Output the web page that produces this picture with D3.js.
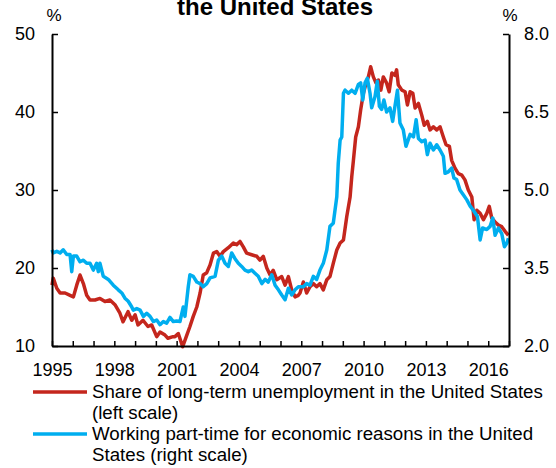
<!DOCTYPE html>
<html>
<head>
<meta charset="utf-8">
<script src="https://cdn.jsdelivr.net/npm/d3@7"></script>
<style>
  html, body { margin: 0; padding: 0; background: #fff; }
  svg { display: block; font-family: "Liberation Sans", Arial, sans-serif; }
</style>
</head>
<body>
<svg id="chart" width="556" height="468"></svg>
<script>
// ---- Data (decimal year, value) ----
const longTermYears = [1995.00,1995.06,1995.23,1995.39,1995.63,1995.87,1996.03,1996.19,1996.35,1996.51,1996.67,1996.83,1997.07,1997.31,1997.55,1997.79,1998.03,1998.27,1998.42,1998.66,1998.84,1999.00,1999.14,1999.38,1999.62,1999.80,2000.04,2000.20,2000.44,2000.58,2000.83,2000.92,2001.08,2001.29,2001.49,2001.64,2001.80,2001.97,2002.13,2002.28,2002.45,2002.61,2002.77,2002.93,2003.09,2003.25,2003.49,2003.73,2003.89,2004.05,2004.21,2004.37,2004.61,2004.86,2005.01,2005.17,2005.34,2005.50,2005.65,2005.82,2006.06,2006.22,2006.38,2006.54,2006.70,2006.86,2006.94,2007.10,2007.26,2007.42,2007.58,2007.74,2007.90,2008.06,2008.23,2008.38,2008.54,2008.71,2008.87,2009.03,2009.19,2009.35,2009.43,2009.51,2009.62,2009.75,2009.86,2009.99,2010.12,2010.23,2010.34,2010.47,2010.60,2010.71,2010.83,2010.95,2011.11,2011.23,2011.36,2011.51,2011.59,2011.67,2011.84,2012.00,2012.11,2012.24,2012.37,2012.48,2012.64,2012.80,2012.92,2013.07,2013.20,2013.36,2013.52,2013.68,2013.84,2013.97,2014.13,2014.24,2014.40,2014.56,2014.73,2014.88,2015.04,2015.21,2015.32,2015.45,2015.61,2015.77,2015.93,2016.05,2016.17,2016.33,2016.49,2016.65,2016.81,2016.97];
const longTermShare = [17.8,18.7,17.4,16.8,16.8,16.5,16.3,17.8,19.1,18.0,16.5,15.9,15.9,16.1,15.7,15.9,15.3,14.2,13.1,14.4,13.3,14.0,12.7,13.3,12.5,12.7,11.2,11.8,11.4,11.0,11.2,11.2,11.6,9.9,11.4,12.5,13.8,15.0,16.8,19.1,19.4,20.4,21.9,22.1,21.5,22.1,22.6,23.2,23.0,23.4,22.7,21.9,21.7,21.5,21.0,21.5,20.0,19.1,19.7,18.5,18.9,17.8,18.9,17.2,16.3,16.5,16.8,18.2,16.8,17.6,18.0,17.6,18.0,17.2,18.5,18.9,20.6,22.3,23.2,23.6,26.6,29.1,31.7,33.8,36.8,38.1,40.3,42.4,43.7,44.5,45.8,44.5,43.7,44.1,42.8,44.5,43.7,42.6,45.0,44.7,45.4,43.5,42.8,42.6,40.9,42.6,42.4,40.5,41.1,39.6,38.3,38.8,37.7,38.1,37.7,38.1,36.8,35.8,35.6,33.8,32.8,32.1,31.9,31.3,30.0,29.1,26.2,27.4,27.0,26.2,27.0,27.9,26.4,25.9,25.5,25.3,24.7,24.2];

const partTimeYears = [1995.00,1995.06,1995.23,1995.39,1995.54,1995.71,1995.87,1995.95,1996.03,1996.19,1996.35,1996.51,1996.67,1996.83,1996.99,1997.15,1997.23,1997.31,1997.47,1997.71,1997.95,1998.19,1998.36,1998.51,1998.67,1998.84,1998.91,1999.08,1999.24,1999.40,1999.56,1999.72,1999.88,2000.04,2000.20,2000.36,2000.52,2000.68,2000.84,2001.00,2001.16,2001.32,2001.40,2001.49,2001.56,2001.64,2001.80,2001.97,2002.13,2002.28,2002.45,2002.61,2002.85,2003.01,2003.17,2003.33,2003.49,2003.65,2003.81,2003.97,2004.13,2004.29,2004.45,2004.61,2004.77,2004.93,2005.10,2005.26,2005.41,2005.58,2005.74,2005.90,2006.06,2006.22,2006.38,2006.54,2006.70,2006.86,2007.10,2007.26,2007.42,2007.58,2007.74,2007.90,2008.06,2008.23,2008.38,2008.54,2008.71,2008.78,2008.87,2008.95,2009.03,2009.11,2009.27,2009.43,2009.59,2009.75,2009.86,2009.96,2010.07,2010.18,2010.31,2010.39,2010.55,2010.66,2010.76,2010.87,2010.98,2011.11,2011.27,2011.40,2011.51,2011.63,2011.75,2011.91,2012.04,2012.24,2012.40,2012.53,2012.64,2012.80,2012.96,2013.07,2013.20,2013.36,2013.52,2013.68,2013.84,2013.92,2014.08,2014.24,2014.35,2014.48,2014.64,2014.80,2014.97,2015.13,2015.28,2015.48,2015.61,2015.73,2015.93,2016.09,2016.22,2016.33,2016.49,2016.65,2016.78,2016.90,2016.97];
const partTimeShare = [3.85,3.79,3.82,3.79,3.85,3.76,3.76,3.43,3.73,3.73,3.62,3.65,3.59,3.59,3.46,3.59,3.43,3.59,3.34,3.28,3.17,3.08,3.02,2.92,2.86,2.75,2.69,2.72,2.69,2.57,2.63,2.57,2.47,2.50,2.41,2.47,2.44,2.55,2.47,2.48,2.47,2.75,2.57,2.89,3.14,3.37,3.34,3.23,3.20,3.14,3.20,3.31,3.34,3.65,3.73,3.59,3.53,3.79,3.68,3.59,3.53,3.46,3.43,3.46,3.40,3.34,3.20,3.28,3.23,3.37,3.17,3.08,2.98,2.89,3.11,2.98,3.08,3.14,3.14,3.20,3.17,3.34,3.28,3.46,3.59,3.85,4.30,4.36,4.87,5.51,5.96,6.02,6.86,6.92,6.86,6.92,6.86,7.03,7.06,6.73,7.06,7.15,6.86,6.58,6.80,7.09,6.61,6.55,6.73,6.50,6.58,6.32,6.61,6.92,6.29,6.16,5.84,6.07,6.02,6.35,5.99,5.93,5.96,5.68,5.90,5.77,5.87,5.77,5.65,5.32,5.35,5.42,5.23,5.20,5.00,4.91,4.81,4.69,4.61,4.49,4.04,4.27,4.24,4.30,4.46,4.13,4.27,4.16,3.91,3.98,4.07];

const yearTicks = d3.range(1995, 2018);
const yearLabels = ["1995","1998","2001","2004","2007","2010","2013","2016"];
const leftTicks = [10, 20, 30, 40, 50];
const rightTicks = [2.0, 3.5, 5.0, 6.5, 8.0];
const titleText = "the United States";
const legendLabels = [
  ["Share of long-term unemployment in the United States", "(left scale)"],
  ["Working part-time for economic reasons in the United", "States (right scale)"]
];
const seriesColors = ["#c4261d", "#00aeef"];

// ---- Layout ----
const svg = d3.select("#chart");
const plot = { left: 52, right: 509, top: 34, bottom: 346 };

const x = d3.scaleLinear().domain([1995, 2017]).range([plot.left, plot.right]);
const yL = d3.scaleLinear().domain([10, 50]).range([plot.bottom, plot.top]);
const yR = d3.scaleLinear().domain([2, 8]).range([plot.bottom, plot.top]);

// Title (first line lies above the visible area in the reference)
svg.append("text").attr("x", 275).attr("y", 15).attr("text-anchor", "middle")
  .attr("font-size", 24).attr("font-weight", "bold").attr("fill", "#000").text(titleText);

// Unit labels
svg.append("text").attr("x", 54).attr("y", 21).attr("text-anchor", "middle")
  .attr("font-size", 17).text("%");
svg.append("text").attr("x", 510).attr("y", 21).attr("text-anchor", "middle")
  .attr("font-size", 17).text("%");

// Series
const lineL = d3.line().x(d => x(d[0])).y(d => yL(d[1]));
const lineR = d3.line().x(d => x(d[0])).y(d => yR(d[1]));

svg.append("path").datum(d3.zip(longTermYears, longTermShare))
  .attr("d", lineL).attr("fill", "none").attr("stroke", seriesColors[0])
  .attr("stroke-width", 3.5).attr("stroke-linejoin", "round");
svg.append("path").datum(d3.zip(partTimeYears, partTimeShare))
  .attr("d", lineR).attr("fill", "none").attr("stroke", seriesColors[1])
  .attr("stroke-width", 3.5).attr("stroke-linejoin", "round");

// Axes
function styleAxis(g) {
  g.selectAll("path.domain").attr("stroke", "#000").attr("stroke-width", 2);
  g.selectAll(".tick line").attr("stroke", "#000").attr("stroke-width", 1.5);
  g.selectAll(".tick text").attr("fill", "#000").attr("font-size", 18)
    .attr("font-family", "'Liberation Sans', Arial, sans-serif");
}

const gLeft = svg.append("g").attr("transform", `translate(${plot.left},0)`)
  .call(d3.axisLeft(yL).tickValues(leftTicks).tickSize(-6).tickSizeOuter(0).tickPadding(17).tickFormat(d3.format("d")));
styleAxis(gLeft);

const gRight = svg.append("g").attr("transform", `translate(${plot.right},0)`)
  .call(d3.axisRight(yR).tickValues(rightTicks).tickSize(-6).tickSizeOuter(0).tickPadding(15).tickFormat(d3.format(".1f")));
styleAxis(gRight);

const gBottom = svg.append("g").attr("transform", `translate(0,${plot.bottom})`)
  .call(d3.axisBottom(x).tickValues(yearTicks).tickSize(-5).tickSizeOuter(0).tickPadding(17)
    .tickFormat(d => yearLabels.includes(String(d)) ? String(d) : ""));
styleAxis(gBottom);

// Legend
const legendTop = [392, 434];
legendLabels.forEach((lines, i) => {
  svg.append("line").attr("x1", 33).attr("x2", 87)
    .attr("y1", legendTop[i]).attr("y2", legendTop[i])
    .attr("stroke", seriesColors[i]).attr("stroke-width", 3.5);
  const t = svg.append("text").attr("x", 92).attr("y", legendTop[i] + 6)
    .attr("font-size", 18.7).attr("fill", "#000");
  lines.forEach((ln, j) => {
    t.append("tspan").attr("x", 92).attr("dy", j === 0 ? 0 : 21).text(ln);
  });
});
</script>
</body>
</html>
